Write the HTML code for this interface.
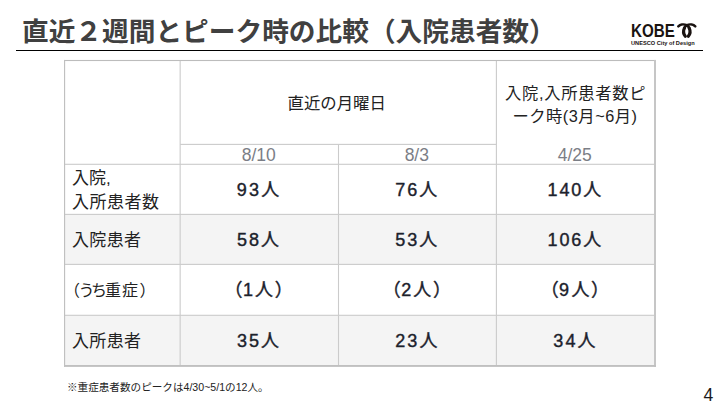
<!DOCTYPE html>
<html lang="ja">
<head>
<meta charset="utf-8">
<title>直近２週間とピーク時の比較（入院患者数）</title>
<style>
html,body{margin:0;padding:0;background:#fff;}
body{width:720px;height:405px;overflow:hidden;position:relative;font-family:"Liberation Sans",sans-serif;color:#222;}
.slide{position:absolute;left:0;top:0;width:720px;height:405px;background:#fff;overflow:hidden;}
.g{position:absolute;left:0;top:0;width:720px;height:405px;margin:0;padding:0;display:block;font-weight:normal;font-size:10px;}
.g svg{position:absolute;left:0;top:0;display:block;}
.g svg text{font-family:"Liberation Sans","Noto Sans CJK JP",sans-serif;}
.sr{position:absolute;width:1px;height:1px;margin:-1px;padding:0;overflow:hidden;clip:rect(0 0 0 0);clip-path:inset(50%);white-space:nowrap;border:0;}
.rule{position:absolute;left:16px;top:49.8px;width:687px;height:1.1px;background:#000;}
.grid{position:absolute;left:0;top:0;display:block;}
.pg{position:absolute;left:703.6px;top:384.6px;width:14px;text-align:left;font-size:17.6px;line-height:20px;color:#1a1a1a;}
</style>
</head>
<body>
<div class="slide">
<!-- table grid -->
<svg class="grid" aria-hidden="true" width="720" height="405" viewBox="0 0 720 405" shape-rendering="geometricPrecision">
<rect x="64.5" y="214.4" width="589.5" height="50" fill="#f4f4f4"/>
<rect x="64.5" y="315.3" width="589.5" height="49.7" fill="#f4f4f4"/>
<rect x="179.6" y="60.3" width="1.1" height="304.7" fill="#cbcbcb"/>
<rect x="337.95" y="144.4" width="1.1" height="220.6" fill="#cbcbcb"/>
<rect x="495.85" y="60.3" width="1.1" height="304.7" fill="#cbcbcb"/>
<rect x="180.15" y="143.85" width="316.25" height="1.1" fill="#cbcbcb"/>
<rect x="64.5" y="163.75" width="589.5" height="1.1" fill="#cbcbcb"/>
<rect x="64.5" y="213.85" width="589.5" height="1.1" fill="#cbcbcb"/>
<rect x="64.5" y="263.85" width="589.5" height="1.1" fill="#cbcbcb"/>
<rect x="64.5" y="314.75" width="589.5" height="1.1" fill="#cbcbcb"/>
<rect x="64" y="59.95" width="592" height="1.1" fill="#bcbcbc"/>
<rect x="64" y="59.95" width="1.15" height="306.95" fill="#c0c0c0"/>
<rect x="654" y="59.95" width="2" height="306.95" fill="#c6c6c6"/>
<rect x="64" y="365" width="592" height="1.9" fill="#c0c0c0"/>
</svg>
<!-- title + logo -->
<header>
<h1 class="g"><span class="sr">直近２週間とピーク時の比較（入院患者数）</span><svg aria-hidden="true" width="720" height="405" viewBox="0 0 720 405"><text x="22" y="40.8" font-size="26.7" font-weight="bold" fill="#404040">直近２週間とピーク時の比較（入院患者数）</text></svg></h1>
<div class="rule"></div>
<div class="logo" role="img" aria-label="KOBE UNESCO City of Design">
<div class="g"><span class="sr">KOBE</span><svg aria-hidden="true" width="720" height="405" viewBox="0 0 720 405"><text x="631" y="36.9" font-size="18.4" font-weight="bold" fill="#1a1311" textLength="43.8" lengthAdjust="spacingAndGlyphs">KOBE</text></svg></div>
<div class="g"><span class="sr">UNESCO City of Design</span><svg aria-hidden="true" width="720" height="405" viewBox="0 0 720 405"><text x="631" y="44.95" font-size="6.2" font-weight="bold" fill="#1a1311" textLength="63.7" lengthAdjust="spacingAndGlyphs">UNESCO City of Design</text></svg></div>
<svg class="mark" style="position:absolute;left:0;top:0" width="720" height="405" viewBox="0 0 720 405" aria-hidden="true">
<defs><g id="kb" fill="none" stroke="#1a1311" stroke-linecap="round">
<path stroke-width="2.5" d="M678.3 26.4 C680 24.6 683.6 23.7 686.6 25.2 C688 26 688.8 27 689.3 28.2"/>
<path stroke-width="3.2" d="M689.1 27.9 C690.4 30.6 690.2 34 688.3 36.3"/>
</g></defs>
<use href="#kb"/><use href="#kb" transform="translate(1373.6,0) scale(-1,1)"/>
</svg>
</div>
</header>
<!-- table text -->
<main role="table" aria-label="入院患者数">
<div role="row">
<div class="g" role="columnheader"><span class="sr">直近の月曜日</span><svg aria-hidden="true" width="720" height="405" viewBox="0 0 720 405"><text x="287.5" y="109" font-size="16.4" fill="#222222">直近の月曜日</text></svg></div>
<div class="g" role="columnheader"><span class="sr">入院,入所患者数ピ</span><svg aria-hidden="true" width="720" height="405" viewBox="0 0 720 405"><text x="575.3" y="99.4" font-size="16.3" fill="#222222" text-anchor="middle" textLength="140.5" lengthAdjust="spacing">入院,入所患者数ピ</text></svg></div>
<div class="g" role="columnheader"><span class="sr">ーク時(3月~6月)</span><svg aria-hidden="true" width="720" height="405" viewBox="0 0 720 405"><text x="574.7" y="122" font-size="16.3" fill="#222222" text-anchor="middle" textLength="124.5" lengthAdjust="spacing">ーク時(3月~6月)</text></svg></div>
</div>
<div role="row">
<div class="g" role="columnheader"><span class="sr">8/10</span><svg aria-hidden="true" width="720" height="405" viewBox="0 0 720 405"><text x="258.8" y="160.5" font-size="17.5" fill="#7b7e86" text-anchor="middle">8/10</text></svg></div>
<div class="g" role="columnheader"><span class="sr">8/3</span><svg aria-hidden="true" width="720" height="405" viewBox="0 0 720 405"><text x="416.8" y="160.5" font-size="17.5" fill="#7b7e86" text-anchor="middle">8/3</text></svg></div>
<div class="g" role="columnheader"><span class="sr">4/25</span><svg aria-hidden="true" width="720" height="405" viewBox="0 0 720 405"><text x="574.7" y="160.5" font-size="17.5" fill="#7b7e86" text-anchor="middle">4/25</text></svg></div>
</div>
<div role="row">
<div class="g" role="rowheader"><span class="sr">入院,</span><svg aria-hidden="true" width="720" height="405" viewBox="0 0 720 405"><text x="72" y="184" font-size="17" fill="#222222">入院,</text></svg></div>
<div class="g" role="rowheader"><span class="sr">入所患者数</span><svg aria-hidden="true" width="720" height="405" viewBox="0 0 720 405"><text x="72" y="207.6" font-size="17" fill="#222222" textLength="87" lengthAdjust="spacing">入所患者数</text></svg></div>
<div class="g" role="cell"><span class="sr">93人</span><svg aria-hidden="true" width="720" height="405" viewBox="0 0 720 405"><text x="258" y="195.7" font-size="18" fill="#1c222c" stroke="#1c222c" stroke-width="0.4" text-anchor="middle" textLength="42.4" lengthAdjust="spacing">93人</text></svg></div>
<div class="g" role="cell"><span class="sr">76人</span><svg aria-hidden="true" width="720" height="405" viewBox="0 0 720 405"><text x="416.3" y="195.7" font-size="18" fill="#1c222c" stroke="#1c222c" stroke-width="0.4" text-anchor="middle" textLength="42" lengthAdjust="spacing">76人</text></svg></div>
<div class="g" role="cell"><span class="sr">140人</span><svg aria-hidden="true" width="720" height="405" viewBox="0 0 720 405"><text x="574.4" y="195.7" font-size="18" fill="#1c222c" stroke="#1c222c" stroke-width="0.4" text-anchor="middle" textLength="53.6" lengthAdjust="spacing">140人</text></svg></div>
</div>
<div role="row">
<div class="g" role="rowheader"><span class="sr">入院患者</span><svg aria-hidden="true" width="720" height="405" viewBox="0 0 720 405"><text x="72" y="245.9" font-size="17" fill="#222222" textLength="69" lengthAdjust="spacing">入院患者</text></svg></div>
<div class="g" role="cell"><span class="sr">58人</span><svg aria-hidden="true" width="720" height="405" viewBox="0 0 720 405"><text x="258" y="246" font-size="18" fill="#1c222c" stroke="#1c222c" stroke-width="0.4" text-anchor="middle" textLength="42.1" lengthAdjust="spacing">58人</text></svg></div>
<div class="g" role="cell"><span class="sr">53人</span><svg aria-hidden="true" width="720" height="405" viewBox="0 0 720 405"><text x="416.3" y="246" font-size="18" fill="#1c222c" stroke="#1c222c" stroke-width="0.4" text-anchor="middle" textLength="42.1" lengthAdjust="spacing">53人</text></svg></div>
<div class="g" role="cell"><span class="sr">106人</span><svg aria-hidden="true" width="720" height="405" viewBox="0 0 720 405"><text x="574.4" y="246" font-size="18" fill="#1c222c" stroke="#1c222c" stroke-width="0.4" text-anchor="middle" textLength="53.6" lengthAdjust="spacing">106人</text></svg></div>
</div>
<div role="row">
<div class="g" role="rowheader"><span class="sr">（うち重症）</span><svg aria-hidden="true" width="720" height="405" viewBox="0 0 720 405"><text x="64 78.5 91 105 122 139.5" y="296" font-size="16" fill="#222222">（うち重症）</text></svg></div>
<div class="g" role="cell"><span class="sr">（1人）</span><svg aria-hidden="true" width="720" height="405" viewBox="0 0 720 405"><text x="224.4 243 255 274.7" y="296.4" font-size="18" fill="#1c222c" stroke="#1c222c" stroke-width="0.4">（1人）</text></svg></div>
<div class="g" role="cell"><span class="sr">（2人）</span><svg aria-hidden="true" width="720" height="405" viewBox="0 0 720 405"><text x="382.7 401.3 413.3 433" y="296.4" font-size="18" fill="#1c222c" stroke="#1c222c" stroke-width="0.4">（2人）</text></svg></div>
<div class="g" role="cell"><span class="sr">（9人）</span><svg aria-hidden="true" width="720" height="405" viewBox="0 0 720 405"><text x="540.8 559 571.4 591.1" y="296.4" font-size="18" fill="#1c222c" stroke="#1c222c" stroke-width="0.4">（9人）</text></svg></div>
</div>
<div role="row">
<div class="g" role="rowheader"><span class="sr">入所患者</span><svg aria-hidden="true" width="720" height="405" viewBox="0 0 720 405"><text x="72" y="346.7" font-size="17" fill="#222222" textLength="69" lengthAdjust="spacing">入所患者</text></svg></div>
<div class="g" role="cell"><span class="sr">35人</span><svg aria-hidden="true" width="720" height="405" viewBox="0 0 720 405"><text x="258" y="346.8" font-size="18" fill="#1c222c" stroke="#1c222c" stroke-width="0.4" text-anchor="middle" textLength="42.1" lengthAdjust="spacing">35人</text></svg></div>
<div class="g" role="cell"><span class="sr">23人</span><svg aria-hidden="true" width="720" height="405" viewBox="0 0 720 405"><text x="416.3" y="346.8" font-size="18" fill="#1c222c" stroke="#1c222c" stroke-width="0.4" text-anchor="middle" textLength="42.2" lengthAdjust="spacing">23人</text></svg></div>
<div class="g" role="cell"><span class="sr">34人</span><svg aria-hidden="true" width="720" height="405" viewBox="0 0 720 405"><text x="574.4" y="346.8" font-size="18" fill="#1c222c" stroke="#1c222c" stroke-width="0.4" text-anchor="middle" textLength="42.1" lengthAdjust="spacing">34人</text></svg></div>
</div>
</main>
<!-- footnote + page number -->
<footer>
<p class="g"><span class="sr">※重症患者数のピークは4/30~5/1の12人。</span><svg aria-hidden="true" width="720" height="405" viewBox="0 0 720 405"><text x="67" y="390.7" font-size="10.6" fill="#222222">※重症患者数のピークは4/30~5/1の12人。</text></svg></p>
<div class="pg">4</div>
</footer>
</div>
</body>
</html>
